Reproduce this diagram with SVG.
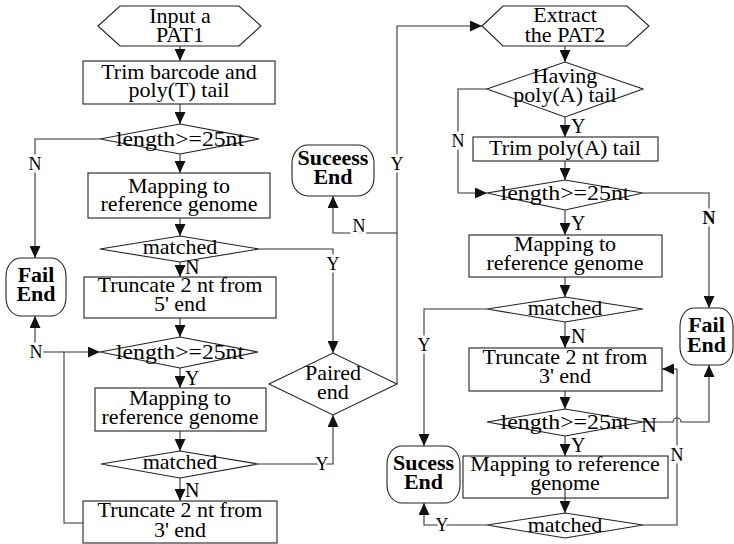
<svg xmlns="http://www.w3.org/2000/svg" width="734" height="544" viewBox="0 0 734 544">
  <defs>
    <marker id="arr" markerUnits="userSpaceOnUse" markerWidth="12" markerHeight="11" refX="12" refY="5.5" orient="auto">
      <path d="M0,0 L12,5.5 L0,11 z" fill="#111"/>
    </marker>
  </defs>
  <style>
    .shape { fill: #fff; stroke: #222; stroke-width: 1.1; }
    .con { fill: none; stroke: #333; stroke-width: 1.1; }
    .t { font-family: "Liberation Serif", "Times New Roman", serif; font-size: 22px; text-anchor: middle; fill: #000; }
    .b { font-weight: bold; }
    .lab { font-family: "Liberation Serif", "Times New Roman", serif; font-size: 20px; fill: #000; }
    .onl { font-family: "Liberation Serif", "Times New Roman", serif; font-size: 18px; text-anchor: middle; fill: #000; stroke: #fff; stroke-width: 5px; paint-order: stroke; }
  </style>

  <rect width="734" height="544" fill="#fff"/>

  <!-- connectors -->
  <g id="connectors">
    <!-- left column -->
    <path class="con" d="M180,46 V61" marker-end="url(#arr)"/>
    <path class="con" d="M180,104 V124" marker-end="url(#arr)"/>
    <path class="con" d="M180,154 V173" marker-end="url(#arr)"/>
    <path class="con" d="M100,139 H35 V258" marker-end="url(#arr)"/>
    <path class="con" d="M180,218 V236" marker-end="url(#arr)"/>
    <path class="con" d="M180,262 V277" marker-end="url(#arr)"/>
    <path class="con" d="M259,249 H333 V353" marker-end="url(#arr)"/>
    <path class="con" d="M180,318 V337" marker-end="url(#arr)"/>
    <path class="con" d="M64,352 H35 V316" marker-end="url(#arr)"/>
    <path class="con" d="M83,523 H64 V352 H100" marker-end="url(#arr)"/>
    <path class="con" d="M180,368 V388" marker-end="url(#arr)"/>
    <path class="con" d="M180,431 V451" marker-end="url(#arr)"/>
    <path class="con" d="M180,478 V501" marker-end="url(#arr)"/>
    <path class="con" d="M258,464 H333 V415" marker-end="url(#arr)"/>
    <!-- middle -->
    <path class="con" d="M397,384 V26 H482" marker-end="url(#arr)"/>
    <path class="con" d="M397,233 H333 V196" marker-end="url(#arr)"/>
    <!-- right column -->
    <path class="con" d="M565,46 V62" marker-end="url(#arr)"/>
    <path class="con" d="M565,117 V137" marker-end="url(#arr)"/>
    <path class="con" d="M487,89 H458 V193 H487" marker-end="url(#arr)"/>
    <path class="con" d="M565,161 V180" marker-end="url(#arr)"/>
    <path class="con" d="M643,193 H709 V308" marker-end="url(#arr)"/>
    <path class="con" d="M565,210 V235" marker-end="url(#arr)"/>
    <path class="con" d="M565,277 V297" marker-end="url(#arr)"/>
    <path class="con" d="M487,309 H424 V446" marker-end="url(#arr)"/>
    <path class="con" d="M565,322 V348" marker-end="url(#arr)"/>
    <path class="con" d="M565,391 V409" marker-end="url(#arr)"/>
    <path class="con" d="M643,422 H673 A4,4 0 0 1 681,422 H709 V365" marker-end="url(#arr)"/>
    <path class="con" d="M565,436 V456" marker-end="url(#arr)"/>
    <path class="con" d="M565,486 V513" marker-end="url(#arr)"/>
    <path class="con" d="M643,525 H677 V369 H662" marker-end="url(#arr)"/>
    <path class="con" d="M487,525 H424 V503" marker-end="url(#arr)"/>

    <!-- branch labels -->
    <text class="onl" x="35" y="170">N</text>
    <text class="lab" x="185" y="274">N</text>
    <text class="onl" x="333" y="270">Y</text>
    <text class="onl" x="36" y="358">N</text>
    <text class="lab" x="185" y="385">Y</text>
    <text class="lab" x="185" y="497">N</text>
    <text class="onl" x="322" y="470">Y</text>
    <text class="onl" x="397" y="170">Y</text>
    <text class="onl" x="359" y="232">N</text>
    <text class="lab" x="571" y="133">Y</text>
    <text class="onl" x="458" y="147">N</text>
    <text class="onl b" x="709" y="224">N</text>
    <text class="lab" x="571" y="230">Y</text>
    <text class="onl" x="424" y="351">Y</text>
    <text class="lab" x="571" y="343">N</text>
    <text class="lab" x="641" y="432" style="font-size:22px">N</text>
    <text class="lab" x="571" y="452">Y</text>
    <text class="onl" x="677" y="461">N</text>
    <text class="onl" x="442" y="531">Y</text>
  </g>

  <!-- left column -->
  <g id="input-pat1">
    <polygon class="shape" points="98,26 120,6 239,6 261,26 239,46 120,46"/>
    <text class="t" x="180" y="23">Input a</text>
    <text class="t" x="180" y="42">PAT1</text>
  </g>
  <g id="trim-barcode">
    <rect class="shape" x="83" y="61" width="192" height="43"/>
    <text class="t" x="179" y="79">Trim barcode and</text>
    <text class="t" x="179" y="97">poly(T) tail</text>
  </g>
  <g id="length-check-1">
    <polygon class="shape" points="100,139 180,124 259,139 180,154"/>
    <text class="t" x="180" y="146" textLength="128" lengthAdjust="spacingAndGlyphs">length&gt;=25nt</text>
  </g>
  <g id="mapping-1">
    <rect class="shape" x="88" y="173" width="182" height="45"/>
    <text class="t" x="179" y="193">Mapping to</text>
    <text class="t" x="179" y="211">reference genome</text>
  </g>
  <g id="matched-1">
    <polygon class="shape" points="100,249 180,236 259,249 180,262"/>
    <text class="t" x="180" y="254">matched</text>
  </g>
  <g id="truncate-5">
    <rect class="shape" x="84" y="277" width="192" height="41"/>
    <text class="t" x="180" y="292">Truncate 2 nt from</text>
    <text class="t" x="180" y="311">5' end</text>
  </g>
  <g id="length-check-2">
    <polygon class="shape" points="100,352 180,337 258,352 180,368"/>
    <text class="t" x="180" y="359" textLength="128" lengthAdjust="spacingAndGlyphs">length&gt;=25nt</text>
  </g>
  <g id="mapping-2">
    <rect class="shape" x="95" y="388" width="171" height="43"/>
    <text class="t" x="180" y="405">Mapping to</text>
    <text class="t" x="180" y="424">reference genome</text>
  </g>
  <g id="matched-2">
    <polygon class="shape" points="101,464 180,451 258,464 180,478"/>
    <text class="t" x="180" y="469">matched</text>
  </g>
  <g id="truncate-3-left">
    <rect class="shape" x="83" y="501" width="194" height="42"/>
    <text class="t" x="180" y="517">Truncate 2 nt from</text>
    <text class="t" x="180" y="537">3' end</text>
  </g>
  <g id="fail-end-left">
    <rect class="shape" x="6" y="258" width="60" height="58" rx="15" ry="18"/>
    <text class="t b" x="36" y="282">Fail</text>
    <text class="t b" x="36" y="301">End</text>
  </g>

  <!-- middle -->
  <g id="paired-end">
    <polygon class="shape" points="269,384 333,353 397,384 333,415"/>
    <text class="t" x="333" y="380">Paired</text>
    <text class="t" x="333" y="399">end</text>
  </g>
  <g id="success-end-top">
    <rect class="shape" x="292" y="145" width="82" height="51" rx="16" ry="18"/>
    <text class="t b" x="333" y="165">Suceess</text>
    <text class="t b" x="333" y="184">End</text>
  </g>

  <!-- right column -->
  <g id="extract-pat2">
    <polygon class="shape" points="482,26 503,6 627,6 649,26 627,46 503,46"/>
    <text class="t" x="565" y="22">Extract</text>
    <text class="t" x="565" y="42">the PAT2</text>
  </g>
  <g id="having-polya">
    <polygon class="shape" points="487,89 565,62 643,89 565,117"/>
    <text class="t" x="565" y="83">Having</text>
    <text class="t" x="565" y="102">poly(A) tail</text>
  </g>
  <g id="trim-polya">
    <rect class="shape" x="473" y="137" width="185" height="24"/>
    <text class="t" x="565" y="155">Trim poly(A) tail</text>
  </g>
  <g id="length-check-3">
    <polygon class="shape" points="487,193 565,180 643,193 565,210"/>
    <text class="t" x="565" y="200" textLength="129" lengthAdjust="spacingAndGlyphs">length&gt;=25nt</text>
  </g>
  <g id="mapping-3">
    <rect class="shape" x="469" y="235" width="193" height="42"/>
    <text class="t" x="565" y="251">Mapping to</text>
    <text class="t" x="565" y="270">reference genome</text>
  </g>
  <g id="matched-3">
    <polygon class="shape" points="487,309 565,297 643,309 565,322"/>
    <text class="t" x="565" y="315">matched</text>
  </g>
  <g id="truncate-3-right">
    <rect class="shape" x="469" y="348" width="193" height="43"/>
    <text class="t" x="565" y="364">Truncate 2 nt from</text>
    <text class="t" x="565" y="383">3' end</text>
  </g>
  <g id="length-check-4">
    <polygon class="shape" points="487,422 565,409 643,422 565,436"/>
    <text class="t" x="565" y="429" textLength="129" lengthAdjust="spacingAndGlyphs">length&gt;=25nt</text>
  </g>
  <g id="mapping-4">
    <rect class="shape" x="463" y="456" width="205" height="42"/>
    <text class="t" x="565" y="471">Mapping to reference</text>
    <text class="t" x="565" y="490">genome</text>
  </g>
  <g id="matched-4">
    <polygon class="shape" points="487,525 565,513 643,525 565,538"/>
    <text class="t" x="565" y="532">matched</text>
  </g>
  <g id="fail-end-right">
    <rect class="shape" x="680" y="308" width="53" height="57" rx="14" ry="18"/>
    <text class="t b" x="706.5" y="332">Fail</text>
    <text class="t b" x="706.5" y="352">End</text>
  </g>
  <g id="success-end-bottom">
    <rect class="shape" x="387" y="446" width="73" height="57" rx="15" ry="18"/>
    <text class="t b" x="423.5" y="470">Sucess</text>
    <text class="t b" x="423.5" y="489">End</text>
  </g>

  <!-- line crossing the genome label -->
  <path class="con" d="M565,484 V498"/>
</svg>
